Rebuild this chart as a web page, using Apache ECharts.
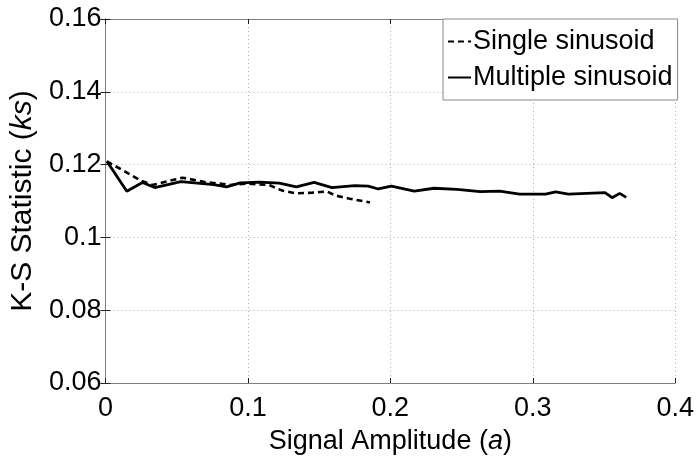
<!DOCTYPE html>
<html>
<head>
<meta charset="utf-8">
<script src="https://cdn.jsdelivr.net/npm/echarts@6/dist/echarts.min.js"></script>
<style>
  html, body { margin: 0; padding: 0; background: #fff; }
  #chart { width: 697px; height: 460px; }
</style>
</head>
<body>
<div id="chart"></div>
<script>
// ---- data ----
const singleX = [0.001, 0.0254, 0.033, 0.054, 0.069, 0.0877, 0.099, 0.115, 0.12, 0.1246, 0.134, 0.1453, 0.1557, 0.1615, 0.1707, 0.1857];
const singleY = [0.1209, 0.1155, 0.1144, 0.1164, 0.1153, 0.1144, 0.1148, 0.1144, 0.1135, 0.1128, 0.1121, 0.1123, 0.1126, 0.1115, 0.1107, 0.1096];

const multiX = [0.001, 0.015, 0.026, 0.0346, 0.053, 0.076, 0.085, 0.0946, 0.108, 0.122, 0.134, 0.1465, 0.159, 0.175, 0.1845, 0.1915, 0.2007, 0.2168, 0.2307, 0.2468, 0.263, 0.2768, 0.2907, 0.309, 0.316, 0.325, 0.3507, 0.3557, 0.361, 0.3656];
const multiY = [0.1209, 0.1127, 0.1151, 0.1137, 0.1153, 0.1145, 0.1139, 0.1150, 0.1152, 0.1149, 0.1139, 0.1151, 0.1137, 0.1142, 0.1141, 0.1133, 0.1141, 0.1127, 0.1135, 0.1132, 0.1126, 0.1127, 0.1119, 0.1119, 0.1125, 0.1119, 0.1123, 0.1109, 0.1121, 0.1110];

const seriesNames = ['Single sinusoid', 'Multiple sinusoid'];
const xTickLabels = ['0', '0.1', '0.2', '0.3', '0.4'];
const yTickLabels = ['0.06', '0.08', '0.1', '0.12', '0.14', '0.16'];
const xTitle = 'Signal Amplitude ({i|a})';
const yTitle = 'K-S Statistic ({i|ks})';

// ---- chart ----
const pair = (xs, ys) => xs.map((x, i) => [x, ys[i]]);
const FONT = '"Liberation Sans", Arial, sans-serif';
const axisGray = '#7f7f7f';

const chart = echarts.init(document.getElementById('chart'), null, { renderer: 'canvas' });

const baseAxis = {
  axisLine: { show: true, lineStyle: { color: axisGray, width: 1 } },
  axisTick: { show: true, inside: true, length: 5, lineStyle: { color: '#222', width: 1 } },
};

chart.setOption({
  animation: false,
  backgroundColor: '#fff',
  grid: { left: 100, right: 19, top: 19, bottom: 74, containLabel: false },
  legend: {
    orient: 'vertical',
    left: 443,
    top: 19,
    padding: [9, 5, 9, 4],
    itemGap: 9,
    itemWidth: 23,
    itemHeight: 14,
    itemStyle: { opacity: 0 },
    borderColor: '#888',
    borderWidth: 1,
    backgroundColor: '#fff',
    textStyle: { fontFamily: FONT, fontSize: 27, color: '#000', padding: [0, 0, 0, -3] },
    data: seriesNames
  },
  xAxis: [
    Object.assign({}, baseAxis, {
      type: 'value', min: 0, max: 0.4, interval: 0.1, position: 'bottom',
      name: xTitle, nameLocation: 'middle', nameGap: 45,
      nameTextStyle: { fontFamily: FONT, fontSize: 27, color: '#000', rich: { i: { fontFamily: FONT, fontSize: 27, fontStyle: 'italic', color: '#000' } } },
      axisLabel: {
        fontFamily: FONT, fontSize: 27, color: '#000', margin: 12,
        formatter: (v) => xTickLabels[Math.round(v / 0.1)]
      },
      splitLine: { show: true, lineStyle: { color: '#b0b0b0', type: [1, 3], width: 1 } }
    }),
    Object.assign({}, baseAxis, {
      type: 'value', min: 0, max: 0.4, interval: 0.1, position: 'top',
      axisLabel: { show: false }, splitLine: { show: false }
    })
  ],
  yAxis: [
    Object.assign({}, baseAxis, {
      type: 'value', min: 0.06, max: 0.16, interval: 0.02, position: 'left',
      name: yTitle, nameLocation: 'middle', nameGap: 65, nameRotate: 90,
      nameTextStyle: { fontFamily: FONT, fontSize: 30, color: '#000', rich: { i: { fontFamily: FONT, fontSize: 30, fontStyle: 'italic', color: '#000' } } },
      axisLabel: {
        fontFamily: FONT, fontSize: 27, color: '#000', margin: 4,
        formatter: (v) => yTickLabels[Math.round((v - 0.06) / 0.02)]
      },
      splitLine: { show: true, lineStyle: { color: '#b0b0b0', type: [1, 3], width: 1 } }
    }),
    Object.assign({}, baseAxis, {
      type: 'value', min: 0.06, max: 0.16, interval: 0.02, position: 'right',
      axisLabel: { show: false }, splitLine: { show: false }
    })
  ],
  series: [
    {
      name: seriesNames[0], type: 'line', xAxisIndex: 0, yAxisIndex: 0,
      data: pair(singleX, singleY), showSymbol: false, symbol: 'none',
      lineStyle: { color: '#000', width: 2.6, type: [6, 4] }, itemStyle: { color: '#000' }
    },
    {
      name: seriesNames[1], type: 'line', xAxisIndex: 0, yAxisIndex: 0,
      data: pair(multiX, multiY), showSymbol: false, symbol: 'none',
      lineStyle: { color: '#000', width: 2.8, type: 'solid' }, itemStyle: { color: '#000' }
    }
  ]
});
</script>
</body>
</html>
